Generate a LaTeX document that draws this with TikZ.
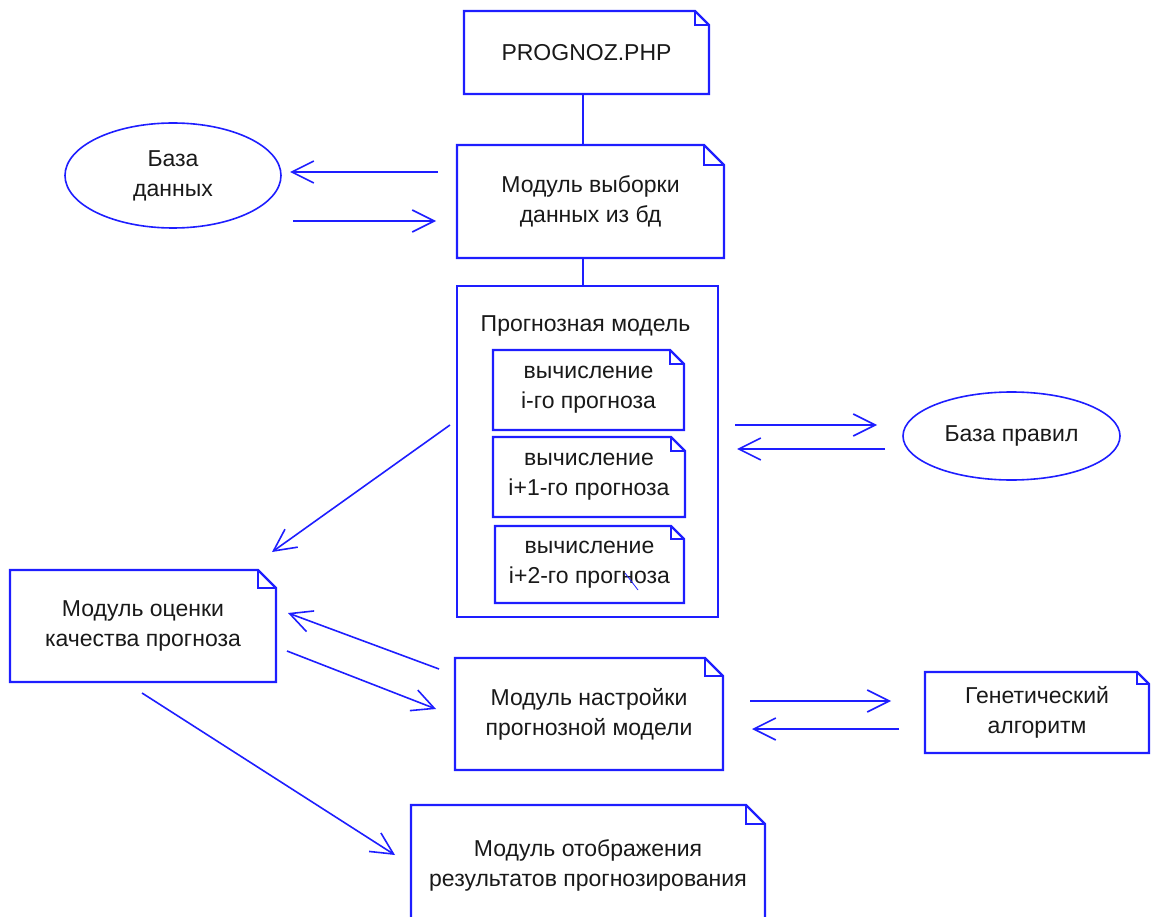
\documentclass[tikz,border=0pt]{standalone}
\usepackage{fontspec}
\setmainfont{Liberation Sans}
\usetikzlibrary{arrows.meta,shapes.geometric}
\definecolor{lineblue}{RGB}{30,30,255}
\definecolor{inktext}{RGB}{25,25,25}

% outline of a document box: rectangle with a folded top-right corner
\newcommand\foldedbox[2]{%
  \draw[boxline] (#1.south west) -- (#1.north west)
    -- ([xshift=-#2pt]#1.north east) -- ([yshift=-#2pt]#1.north east)
    -- (#1.south east) -- cycle;
  \draw[boxline] ([xshift=-#2pt]#1.north east) |- ([yshift=-#2pt]#1.north east);
}

\begin{document}
\begin{tikzpicture}[x=1pt,y=-1pt,
  every node/.style={font=\fontsize{23}{30}\selectfont, text=inktext,
    inner sep=0pt, outer sep=0pt, align=center},
  boxline/.style={draw=lineblue, line width=2.2pt},
  docnode/.style 2 args={minimum width=#1, minimum height=#2},
  oval/.style={ellipse, draw=lineblue, line width=1.6pt},
  flow/.style={draw=lineblue, line width=1.6pt,
    -{Straight Barb[length=22pt,width=22pt]}},
  link/.style={draw=lineblue, line width=2pt},
]
\useasboundingbox (0,0) rectangle (1151,917);
\clip (0,0) rectangle (1151,917);

% modules
\node[docnode={245}{83}] (prog) at (586.5,52.5) {PROGNOZ.PHP};
\node[docnode={267}{113}] (vyb) at (590.5,201.5) {Модуль выборки\\данных из бд};
\node[boxline, minimum width=261, minimum height=331] (model) at (587.5,451.5) {};
\node (mtitle) at (585.5,326) {Прогнозная модель};
\node[docnode={191}{80}] (calc1) at (588.5,390) {вычисление\\i-го прогноза};
\node[docnode={192}{80}] (calc2) at (589,477) {вычисление\\i+1-го прогноза};
\node[docnode={189}{77}] (calc3) at (589.5,564.5) {вычисление\\i+2-го прогноза};
\node[docnode={266}{112}] (ocenka) at (143,626) {Модуль оценки\\качества прогноза};
\node[docnode={268}{112}] (nastr) at (589,714) {Модуль настройки\\прогнозной модели};
\node[docnode={224}{81}] (genetic) at (1037,712.5) {Генетический\\алгоритм};
\node[docnode={354}{120}] (otobr) at (588,865) {Модуль отображения\\результатов прогнозирования};

% data stores
\node[oval, minimum width=216, minimum height=105] (bd) at (173,175.5) {База\\данных};
\node[oval, minimum width=217, minimum height=88] (rules) at (1011.5,436) {База правил};

% folded outlines
\foldedbox{prog}{14}
\foldedbox{vyb}{20}
\foldedbox{calc1}{14}
\foldedbox{calc2}{14}
\foldedbox{calc3}{13}
\foldedbox{ocenka}{18}
\foldedbox{nastr}{18}
\foldedbox{genetic}{12}
\foldedbox{otobr}{19}

% vertical links
\coordinate (axis) at (583,0);
\draw[link] (prog.south -| axis) -- (vyb.north -| axis);
\draw[link] (vyb.south -| axis) -- (model.north -| axis);

% free ends of the flow arrows
\coordinate (bdOutS) at (438,172);   \coordinate (bdOutE) at (290,172);
\coordinate (bdInS)  at (293,221);   \coordinate (bdInE)  at (436,221);
\coordinate (ruOutS) at (735,425);   \coordinate (ruOutE) at (877,425);
\coordinate (ruInS)  at (885,449);   \coordinate (ruInE)  at (737,449);
\coordinate (evS)    at (450,425);   \coordinate (evE)    at (272,552);
\coordinate (tuBackS) at (439,669);  \coordinate (tuBackE) at (288,613);
\coordinate (tuS)    at (287,651);   \coordinate (tuE)    at (436,709);
\coordinate (gaOutS) at (750,701);   \coordinate (gaOutE) at (891,701);
\coordinate (gaInS)  at (899,729);   \coordinate (gaInE)  at (752,729);
\coordinate (resS)   at (142,693);   \coordinate (resE)   at (395,855);

\draw[flow] (bdOutS) -- (bdOutE);
\draw[flow] (bdInS) -- (bdInE);
\draw[flow] (ruOutS) -- (ruOutE);
\draw[flow] (ruInS) -- (ruInE);
\draw[flow] (evS) -- (evE);
\draw[flow] (tuBackS) -- (tuBackE);
\draw[flow] (tuS) -- (tuE);
\draw[flow] (gaOutS) -- (gaOutE);
\draw[flow] (gaInS) -- (gaInE);
\draw[flow] (resS) -- (resE);

% small stray stroke over the last label
\draw[draw=lineblue, line width=0.8pt] (625,573) -- (638,590);
\end{tikzpicture}
\end{document}
